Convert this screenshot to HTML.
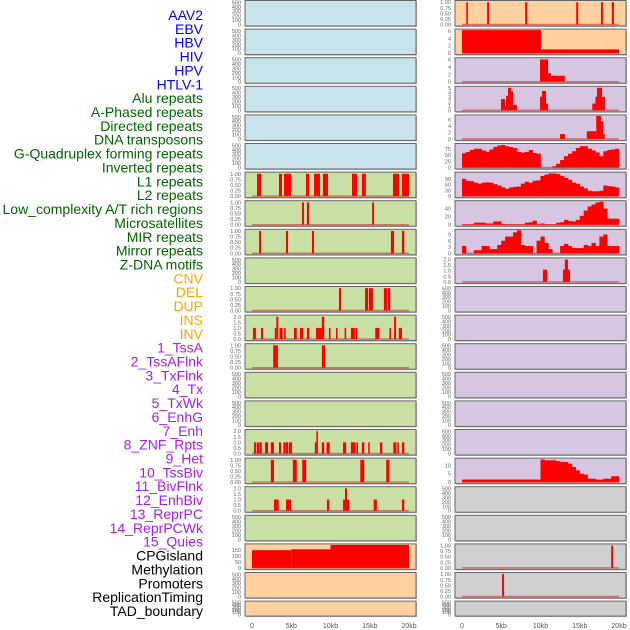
<!DOCTYPE html>
<html><head><meta charset="utf-8">
<style>
html,body{margin:0;padding:0;background:#fff;}
svg{display:block;font-family:"Liberation Sans",sans-serif;}
</style></head>
<body>
<svg id="chart" width="630" height="630" viewBox="0 0 630 630" xmlns="http://www.w3.org/2000/svg"></svg>
<script>
// ---- labels ----
const trackLabels = ["AAV2","EBV","HBV","HIV","HPV","HTLV-1","Alu repeats","A-Phased repeats","Directed repeats","DNA transposons","G-Quadruplex forming repeats","Inverted repeats","L1 repeats","L2 repeats","Low_complexity A/T rich regions","Microsatellites","MIR repeats","Mirror repeats","Z-DNA motifs","CNV","DEL","DUP","INS","INV","1_TssA","2_TssAFlnk","3_TxFlnk","4_Tx","5_TxWk","6_EnhG","7_Enh","8_ZNF_Rpts","9_Het","10_TssBiv","11_BivFlnk","12_EnhBiv","13_ReprPC","14_ReprPCWk","15_Quies","CPGisland","Methylation","Promoters","ReplicationTiming","TAD_boundary"];
const labelColors = ["#0000ff","#0000ff","#0000ff","#0000ff","#0000ff","#0000ff","#006400","#006400","#006400","#006400","#006400","#006400","#006400","#006400","#006400","#006400","#006400","#006400","#006400","#ffa500","#ffa500","#ffa500","#ffa500","#ffa500","#a020f0","#a020f0","#a020f0","#a020f0","#a020f0","#a020f0","#a020f0","#a020f0","#a020f0","#a020f0","#a020f0","#a020f0","#a020f0","#a020f0","#a020f0","#000","#000","#000","#000","#000"];
const xTicks = [0,5,10,15,20];
const xTickLabels = ["0","5kb","10kb","15kb","20kb"];

// ---- segment data [startKb, endKb, value] ----
const segL6 = [[0.64,1.15,1],[3.44,3.82,1],[4.08,4.97,1],[6.88,7.26,1],[7.9,8.66,1],[9.04,9.68,1],[12.74,13.38,1],[14.0,14.5,1],[17.96,18.73,1],[19.1,20.0,1]];
const segL7 = [[6.37,6.62,1],[7.0,7.26,1],[15.3,15.55,1]];
const segL8 = [[0.9,1.15,1],[4.33,4.59,1],[7.64,7.9,1],[17.7,18.1,1],[19.1,19.4,1]];
const segL10 = [[11.08,11.34,1],[14.4,14.8,1],[14.9,15.4,1],[16.8,17.2,1],[17.3,17.6,1]];
const segL11 = [[0.13,0.5,1],[1.15,1.4,1],[2.9,3.1,1],[3.1,3.35,2],[3.5,3.9,1],[4.1,4.3,1],[5.35,5.7,1],[6.1,6.5,1],[7.0,7.3,1],[8.15,8.9,1],[8.9,9.2,2],[9.8,10.0,1],[10.7,10.85,1],[11.8,12.0,1],[12.6,13.1,1],[13.2,13.4,1],[15.7,16.2,1],[17.5,17.7,1],[18.1,18.35,2],[18.7,19.1,1]];
const segL12 = [[2.7,3.3,1],[8.9,9.3,1]];
const segL15 = [[0.25,0.5,1],[0.6,0.9,1],[0.95,1.25,1],[1.65,2.05,1],[2.4,2.8,1],[3.44,3.7,1],[4.0,4.3,1],[4.33,4.6,1],[4.7,5.1,1],[8.0,8.2,1],[8.2,8.4,2],[8.9,9.2,1],[9.5,9.9,1],[11.6,12.0,1],[12.6,13.2,1],[13.3,13.5,1],[14.0,14.3,1],[14.8,15.0,1],[16.3,16.6,1],[18.0,18.4,1],[18.5,18.7,1],[19.1,19.4,1]];
const segL16 = [[2.4,2.8,1],[5.2,5.7,1],[6.4,6.9,1],[13.8,14.3,1],[17.1,17.5,1]];
const segL17 = [[2.8,3.4,1],[4.33,4.97,1],[9.55,9.85,1],[11.6,11.85,1],[11.85,12.1,2],[12.1,12.4,1],[15.5,15.9,1],[19.1,19.4,1]];
const segCpG = [[0,5,150],[5,10,158],[10,20,195]];
const segR0 = [[0.55,0.75,1],[3.2,3.45,1],[8.05,8.3,1],[14.55,14.8,1],[17.7,17.95,1],[19.1,19.35,1]];
const segR1 = [[0,10.06,6.2],[10.06,20,1.0]];
const segR2 = [[9.94,10.96,6],[10.96,11.34,2.3],[11.34,13.1,1.6]];
const segR3 = [[4.97,5.47,2.5],[5.47,5.6,1],[5.6,5.86,3.2],[5.86,6.24,5],[6.24,6.5,4.2],[6.5,7.0,1.2],[9.94,10.2,3],[10.2,10.7,4.3],[10.7,10.96,1.5],[16.6,17.0,1.5],[17.0,17.2,3],[17.2,17.84,5],[17.84,18.2,3]];
const segR4 = [[12.48,13.12,1.5],[15.9,17.1,2.4],[17.1,17.7,7.2],[17.7,18.0,5.5],[18.0,18.2,1.5]];
const segR9 = [[10.31,10.83,1.1],[12.86,13.76,1.1],[13.1,13.5,2.0]];
const segR19 = [[19.0,19.25,1]];
const segR20 = [[5.1,5.35,1]];

// ---- binned data (40 bins of 0.5 kb) ----
const binsR5 = [57,62,70,75,75,68,63,72,82,88,90,85,82,78,62,60,62,70,58,55,0,0,0,5,15,30,45,55,65,78,85,85,75,68,60,45,65,70,72,75];
const binsR6 = [90,80,78,70,65,70,72,70,62,55,45,38,45,48,50,65,75,70,80,82,105,112,118,118,115,105,95,85,70,65,50,40,28,25,25,28,55,52,50,45];
const binsR7 = [1,1,1,5,5,5,3,3,8,8,2,1,1,1,1,1,5,6,10,1,3,1,1,1,5,6,12,9,8,12,22,35,45,50,55,57,40,15,15,15];
const binsR8 = [3.5,0,0,1.5,1.5,3.5,3.5,2,2,4,6,8,8,10,11,4,3.5,3.5,0,6,8,5,2,0,0,3.5,4.5,3.5,2.5,2.5,2.5,4,3.5,5,3.5,8,9,3.5,3.5,3.5];
const binsR16 = [1.5,1.5,1.5,1.5,1.5,1.5,1.5,1.5,1.5,1.5,1.5,1.5,1.5,1.5,1.5,1.5,1.5,1.5,1.5,1.5,13.5,13,13,13,12.5,12,12,11,9,7,5,4.5,2,2,1.5,1.5,2,2,3.5,3.5];

// ---- tick sets ----
const t500 = [0,100,200,300,400,500];
const t01 = [0,0.25,0.5,0.75,1];
const t02 = [0,0.5,1,1.5,2];

const BG = {blue:"#c8e3ea",green:"#c8e0a4",orange:"#ffd1a0",purple:"#d6c6e2",grey:"#d0d0d0"};
// panel spec: [col,row,bg,ymax,ticks,decimals,kind,data]
const panels = [
 [0,0,"blue",520,t500,0,"e",null],[0,1,"blue",520,t500,0,"e",null],[0,2,"blue",520,t500,0,"e",null],
 [0,3,"blue",520,t500,0,"e",null],[0,4,"blue",520,t500,0,"e",null],[0,5,"blue",520,t500,0,"e",null],
 [0,6,"green",1.03,t01,2,"s",segL6],[0,7,"green",1.03,t01,2,"s",segL7],[0,8,"green",1.03,t01,2,"s",segL8],
 [0,9,"green",520,t500,0,"e",null],[0,10,"green",1.03,t01,2,"s",segL10],[0,11,"green",2.06,t02,1,"s",segL11],
 [0,12,"green",1.03,t01,2,"s",segL12],[0,13,"green",520,t500,0,"e",null],[0,14,"green",520,t500,0,"e",null],
 [0,15,"green",2.06,t02,1,"s",segL15],[0,16,"green",1.03,t01,2,"s",segL16],[0,17,"green",2.06,t02,1,"s",segL17],
 [0,18,"green",520,t500,0,"e",null],[0,19,"orange",195,[0,50,100,150],0,"s",segCpG],
 [0,20,"orange",520,t500,0,"e",null],[0,21,"orange",520,t500,0,"e",null],
 [1,0,"orange",1.03,t01,2,"s",segR0],[1,1,"orange",6.2,[0,2,4,6],0,"s",segR1],[1,2,"purple",6.2,[0,2,4,6],0,"s",segR2],
 [1,3,"purple",5.1,[0,1,2,3,4,5],0,"s",segR3],[1,4,"purple",7.2,[0,2,4,6],0,"s",segR4],
 [1,5,"purple",92,[0,25,50,75],0,"b",binsR5],[1,6,"purple",120,[0,30,60,90],0,"b",binsR6],
 [1,7,"purple",57,[0,20,40],0,"b",binsR7],[1,8,"purple",11,[0,3,6,9],0,"b",binsR8],
 [1,9,"purple",2.06,t02,1,"s",segR9],
 [1,10,"purple",520,t500,0,"e",null],[1,11,"purple",520,t500,0,"e",null],[1,12,"purple",520,t500,0,"e",null],
 [1,13,"purple",520,t500,0,"e",null],[1,14,"purple",520,t500,0,"e",null],[1,15,"purple",520,t500,0,"e",null],
 [1,16,"purple",13.7,[0,5,10],0,"b",binsR16],
 [1,17,"grey",520,t500,0,"e",null],[1,18,"grey",520,t500,0,"e",null],
 [1,19,"grey",1.03,t01,2,"s",segR19],[1,20,"grey",1.03,t01,2,"s",segR20],[1,21,"grey",520,t500,0,"e",null]
];

const NS="http://www.w3.org/2000/svg";
const svg=document.getElementById('chart');
function mk(tag,attrs,parent){const e=document.createElementNS(NS,tag);for(const k in attrs)e.setAttribute(k,attrs[k]);(parent||svg).appendChild(e);return e;}

// labels
trackLabels.forEach((t,i)=>{
  const e=mk('text',{x:203,y:15+i*13.86+5,'text-anchor':'end','font-size':'14',fill:labelColors[i]});
  e.textContent=t;
  
  
});

const colX=[245,455], PW=171, dataX0=[252,462], dataW=157;
function rowTop(r){return 0.5+r*28.6;}
function rowH(r){return r===21?15:25.5;}

panels.forEach(p=>{
  const [c,r,bg,ymax,ticks,dec,kind,data]=p;
  const top=rowTop(r), h=rowH(r), bottom=top+h-1.5;
  const g=mk('g',{});
  
  
  mk('rect',{x:colX[c]+1,y:top+1,width:PW,height:h,fill:'#bbb'},g);
  mk('rect',{x:colX[c],y:top,width:PW,height:h,fill:BG[bg],stroke:'#666','stroke-width':1},g);
  const xs=kb=>dataX0[c]+kb/20*dataW;
  const ys=v=>bottom-Math.min(v,ymax)/ymax*(h-2.5);
  ticks.forEach(t=>{
    const tx=mk('text',{x:colX[c]-4,y:ys(t)+2,'text-anchor':'end','font-size':'5.5',fill:'#666'},g);
    tx.textContent=t.toFixed(dec);
  });
  if(kind==='s'){
    mk('line',{x1:xs(0),x2:xs(20),y1:bottom,y2:bottom,stroke:'rgba(190,0,0,0.45)','stroke-width':1.5},g);
    data.forEach(s=>{
      const x0=xs(s[0]);const w=Math.max(xs(s[1])-x0,1.5);
      const b=mk('rect',{x:x0,y:ys(s[2]),width:w,height:bottom-ys(s[2]),fill:'#ff0000'},g);
      
      
    });
  } else if(kind==='b'){
    mk('line',{x1:xs(0),x2:xs(20),y1:bottom,y2:bottom,stroke:'rgba(190,0,0,0.45)','stroke-width':1.5},g);
    const bw=20/data.length;
    data.forEach((v,i)=>{
      const x0=xs(i*bw);
      const b=mk('rect',{x:x0,y:ys(v),width:xs((i+1)*bw)-x0+0.3,height:bottom-ys(v),fill:'#ff0000'},g);
      
      
    });
  }
});

// x axes
[0,1].forEach(c=>{
  xTicks.forEach((t,i)=>{
    const e=mk('text',{x:dataX0[c]+t/20*dataW,y:628,'text-anchor':'middle','font-size':'7',fill:'#555'});
    e.textContent=xTickLabels[i];
    
    
  });
});
</script>
</body></html>
